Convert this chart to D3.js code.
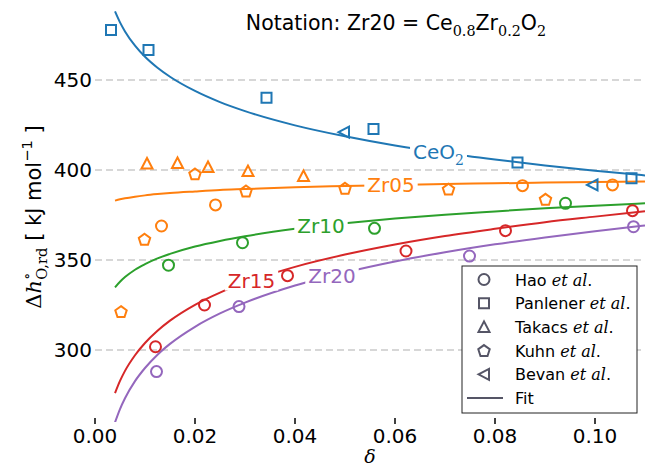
<!DOCTYPE html>
<html>
<head>
<meta charset="utf-8">
<script src="https://cdn.jsdelivr.net/npm/d3@7"></script>
<style>
  body { margin: 0; background: #fff; }
  svg { display: block; font-family: "DejaVu Sans", sans-serif; }
</style>
</head>
<body>
<div id="chart"></div>
<script>

// fit curves
var fitDelta = [0.004, 0.005, 0.006, 0.008, 0.01, 0.0125, 0.015, 0.02, 0.025, 0.03, 0.04, 0.05, 0.06, 0.07, 0.08, 0.09, 0.10, 0.11];
var fitCeO2 = [488.1, 482.0, 477.0, 469.1, 462.9, 456.8, 451.8, 443.9, 437.7, 432.7, 424.8, 418.7, 413.6, 409.4, 405.8, 402.5, 399.6, 397.0];
var fitZr05 = [383.0, 383.7, 384.3, 385.2, 385.9, 386.6, 387.2, 388.1, 388.9, 389.4, 390.4, 391.1, 391.7, 392.2, 392.6, 393.0, 393.3, 393.6];
var fitZr10 = [334.8, 337.9, 340.5, 344.6, 347.7, 350.9, 353.4, 357.5, 360.6, 363.2, 367.3, 370.4, 373.0, 375.2, 377.0, 378.7, 380.2, 381.5];
var fitZr15 = [276.0, 282.8, 288.4, 297.1, 303.9, 310.7, 316.3, 325.1, 331.9, 337.4, 346.2, 353.0, 358.6, 363.3, 367.3, 371.0, 374.1, 377.1];
var fitZr20 = [259.8, 267.2, 273.2, 282.7, 290.0, 297.4, 303.4, 312.9, 320.3, 326.3, 335.8, 343.1, 349.2, 354.3, 358.7, 362.5, 366.0, 369.2];

// measured points [delta, value]
var panlenerCeO2 = [[0.0032, 477.8], [0.0107, 466.7], [0.0343, 440.2], [0.0557, 422.8], [0.0845, 404.1], [0.1073, 395.4]];
var bevanCeO2 = [[0.0498, 421.0], [0.0995, 391.7]];
var takacsZr05 = [[0.0104, 403.6], [0.0165, 403.9], [0.0226, 401.7], [0.0306, 399.4], [0.0417, 396.7]];
var kuhnZr05 = [[0.0052, 321.3], [0.0099, 361.5], [0.0200, 397.8], [0.0302, 388.3], [0.0500, 389.8], [0.0707, 389.3], [0.0901, 383.7]];
var haoZr05 = [[0.0133, 368.9], [0.0241, 380.6], [0.0855, 391.3], [0.1035, 391.7]];
var haoZr10 = [[0.0147, 347.1], [0.0295, 359.6], [0.0559, 367.6], [0.0941, 381.5]];
var haoZr15 = [[0.0121, 301.8], [0.0219, 325.0], [0.0385, 341.3], [0.0622, 355.0], [0.0821, 366.3], [0.1075, 377.4]];
var haoZr20 = [[0.0123, 288.0], [0.0288, 324.1], [0.0749, 352.2], [0.1077, 368.5]];

var seriesNames = ["CeO2", "Zr05", "Zr10", "Zr15", "Zr20"];
var labelDelta = [0.0687, 0.0592, 0.0452, 0.0313, 0.0474];
var legendNames = ["Hao", "Panlener", "Takacs", "Kuhn", "Bevan"];

var xTicks = [0, 0.02, 0.04, 0.06, 0.08, 0.10];
var yTicks = [300, 350, 400, 450];

var colors = ["#1f77b4", "#ff7f0e", "#2ca02c", "#d62728", "#9467bd"];
var legendGray = "#555566";

var W = 649, H = 469;
var margin = { left: 95, right: 4, top: -1, bottom: 47 };

var svg = d3.select("#chart").append("svg")
    .attr("width", W)
    .attr("height", H);

var x = d3.scaleLinear().domain([0, 0.11]).range([margin.left, W - margin.right]);
var y = d3.scaleLinear().domain([260, 495]).range([H - margin.bottom, margin.top]);

svg.append("defs").append("clipPath").attr("id", "plotclip")
    .append("rect")
    .attr("x", x(0)).attr("y", 0)
    .attr("width", x(0.11) - x(0))
    .attr("height", y(260));

// rich text helper (sub / superscripts, math fonts)
function addRich(sel, parts, size) {
    var shift = 0;
    parts.forEach(function (p) {
        var target = p.sub ? size * 0.3 : (p.sup ? -size * 0.42 : 0);
        var ts = sel.append("tspan")
            .attr("dy", target - shift)
            .style("font-size", (p.sub || p.sup ? size * 0.7 : size) + "px")
            .text(p.t);
        if (p.dx) ts.attr("dx", p.dx);
        if (p.serif) ts.style("font-family", "'DejaVu Serif', serif");
        if (p.italic) ts.style("font-style", "italic");
        shift = target;
    });
}

// gridlines
svg.append("g").selectAll("line")
    .data(yTicks)
    .enter().append("line")
    .attr("x1", x(0)).attr("x2", x(0.11) - 3)
    .attr("y1", function (d) { return y(d); })
    .attr("y2", function (d) { return y(d); })
    .attr("stroke", "#b0b0b0")
    .attr("stroke-width", 1.2)
    .attr("stroke-dasharray", "7,4");

// y tick labels
svg.append("g").selectAll("text")
    .data(yTicks)
    .enter().append("text")
    .attr("x", x(0) - 3)
    .attr("y", function (d) { return y(d) + 7; })
    .attr("text-anchor", "end")
    .style("font-size", "20px")
    .text(function (d) { return d; });

// x ticks
var xg = svg.append("g");
xg.selectAll("line")
    .data(xTicks)
    .enter().append("line")
    .attr("x1", function (d) { return x(d); })
    .attr("x2", function (d) { return x(d); })
    .attr("y1", 418).attr("y2", 424)
    .attr("stroke", "#000")
    .attr("stroke-width", 1.5);
xg.selectAll("text")
    .data(xTicks)
    .enter().append("text")
    .attr("x", function (d) { return x(d); })
    .attr("y", 443)
    .attr("text-anchor", "middle")
    .style("font-size", "20px")
    .text(function (d) { return d3.format(".2f")(d); });

// axis labels
svg.append("text")
    .attr("x", 370).attr("y", 463)
    .attr("text-anchor", "middle")
    .style("font-family", "'DejaVu Serif', serif")
    .style("font-style", "italic")
    .style("font-size", "19px")
    .text("δ");

var ylab = svg.append("text")
    .attr("transform", "translate(41,217) rotate(-90)")
    .attr("text-anchor", "middle");
addRich(ylab, [
    { t: "Δ", serif: true },
    { t: "h", serif: true, italic: true },
    { t: "∘", serif: true, sup: true },
    { t: "O,rd", serif: true, sub: true, dx: -7 },
    { t: " [ kJ mol" },
    { t: "−1", sup: true },
    { t: " ]" }
], 21);

// title
var title = svg.append("text")
    .attr("x", 396).attr("y", 30)
    .attr("text-anchor", "middle");
addRich(title, [
    { t: "Notation: Zr20 = Ce" },
    { t: "0.8", sub: true, serif: true },
    { t: "Zr" },
    { t: "0.2", sub: true, serif: true },
    { t: "O" },
    { t: "2", sub: true, serif: true }
], 20.5);

// fit lines
var fits = [fitCeO2, fitZr05, fitZr10, fitZr15, fitZr20];
var line = d3.line()
    .x(function (d) { return x(d[0]); })
    .y(function (d) { return y(d[1]); })
    .curve(d3.curveMonotoneX);

var lineG = svg.append("g").attr("clip-path", "url(#plotclip)");
fits.forEach(function (vals, i) {
    lineG.append("path")
        .datum(fitDelta.map(function (d, j) { return [d, vals[j]]; }))
        .attr("fill", "none")
        .attr("stroke", colors[i])
        .attr("stroke-width", 2)
        .attr("d", line);
});

// inline labels on the fit lines
function valueAt(vals, d) {
    var j = d3.bisectLeft(fitDelta, d);
    j = Math.max(1, Math.min(j, fitDelta.length - 1));
    var t = (d - fitDelta[j - 1]) / (fitDelta[j] - fitDelta[j - 1]);
    return vals[j - 1] + t * (vals[j] - vals[j - 1]);
}

seriesNames.forEach(function (name, i) {
    var g = svg.append("g");
    var bg = g.append("rect").attr("fill", "#fff");
    var t = g.append("text")
        .attr("x", x(labelDelta[i]))
        .attr("y", y(valueAt(fits[i], labelDelta[i])) + 7)
        .attr("text-anchor", "middle")
        .attr("fill", colors[i]);
    if (name == "CeO2") {
        addRich(t, [{ t: "CeO" }, { t: "2", sub: true, serif: true }], 20);
    } else {
        addRich(t, [{ t: name }], 20);
    }
    var bb = t.node().getBBox();
    bg.attr("x", bb.x - 3).attr("y", bb.y + 2)
        .attr("width", bb.width + 6).attr("height", bb.height - 4);
});

// marker shapes
function poly(pts) {
    return "M" + pts.map(function (p) { return p[0] + "," + p[1]; }).join("L") + "Z";
}
function pentagon(r) {
    var pts = [];
    for (var k = 0; k < 5; k++) {
        var a = -Math.PI / 2 + k * 2 * Math.PI / 5;
        pts.push([r * Math.cos(a), r * Math.sin(a) + 0.5]);
    }
    return poly(pts);
}
var shapes = {
    circle: d3.symbol().type(d3.symbolCircle).size(Math.PI * 5.5 * 5.5)(),
    square: poly([[-5, -5], [5, -5], [5, 5], [-5, 5]]),
    triUp: poly([[0, -5.5], [-5.5, 5], [5.5, 5]]),
    pent: pentagon(6),
    triLeft: poly([[-5.5, 0], [5, -5.5], [5, 5.5]])
};

function drawMarkers(data, shape, color) {
    svg.append("g").selectAll("path")
        .data(data)
        .enter().append("path")
        .attr("transform", function (d) { return "translate(" + x(d[0]) + "," + y(d[1]) + ")"; })
        .attr("d", shapes[shape])
        .attr("fill", "none")
        .attr("stroke", color)
        .attr("stroke-width", 2);
}

drawMarkers(panlenerCeO2, "square", colors[0]);
drawMarkers(bevanCeO2, "triLeft", colors[0]);
drawMarkers(takacsZr05, "triUp", colors[1]);
drawMarkers(kuhnZr05, "pent", colors[1]);
drawMarkers(haoZr05, "circle", colors[1]);
drawMarkers(haoZr10, "circle", colors[2]);
drawMarkers(haoZr15, "circle", colors[3]);
drawMarkers(haoZr20, "circle", colors[4]);

// legend
var legend = svg.append("g").attr("transform", "translate(462,266)");
legend.append("rect")
    .attr("x", 0).attr("y", 0)
    .attr("width", 175).attr("height", 147)
    .attr("fill", "#fff")
    .attr("stroke", "#222")
    .attr("stroke-width", 1);

var legendShapes = ["circle", "square", "triUp", "pent", "triLeft"];
legendNames.forEach(function (name, i) {
    var cy = 13.5 + i * 23.7;
    legend.append("path")
        .attr("transform", "translate(22," + cy + ")")
        .attr("d", shapes[legendShapes[i]])
        .attr("fill", "none")
        .attr("stroke", legendGray)
        .attr("stroke-width", 2);
    var t = legend.append("text")
        .attr("x", 53).attr("y", cy + 6)
        .style("font-size", "16px");
    addRich(t, [
        { t: name + " " },
        { t: "et al", serif: true, italic: true },
        { t: "." }
    ], 16);
});
var fy = 13.5 + 5 * 23.7;
legend.append("line")
    .attr("x1", 5).attr("x2", 41)
    .attr("y1", fy).attr("y2", fy)
    .attr("stroke", legendGray)
    .attr("stroke-width", 2);
legend.append("text")
    .attr("x", 53).attr("y", fy + 6)
    .style("font-size", "16px")
    .text("Fit");

</script>
</body>
</html>
